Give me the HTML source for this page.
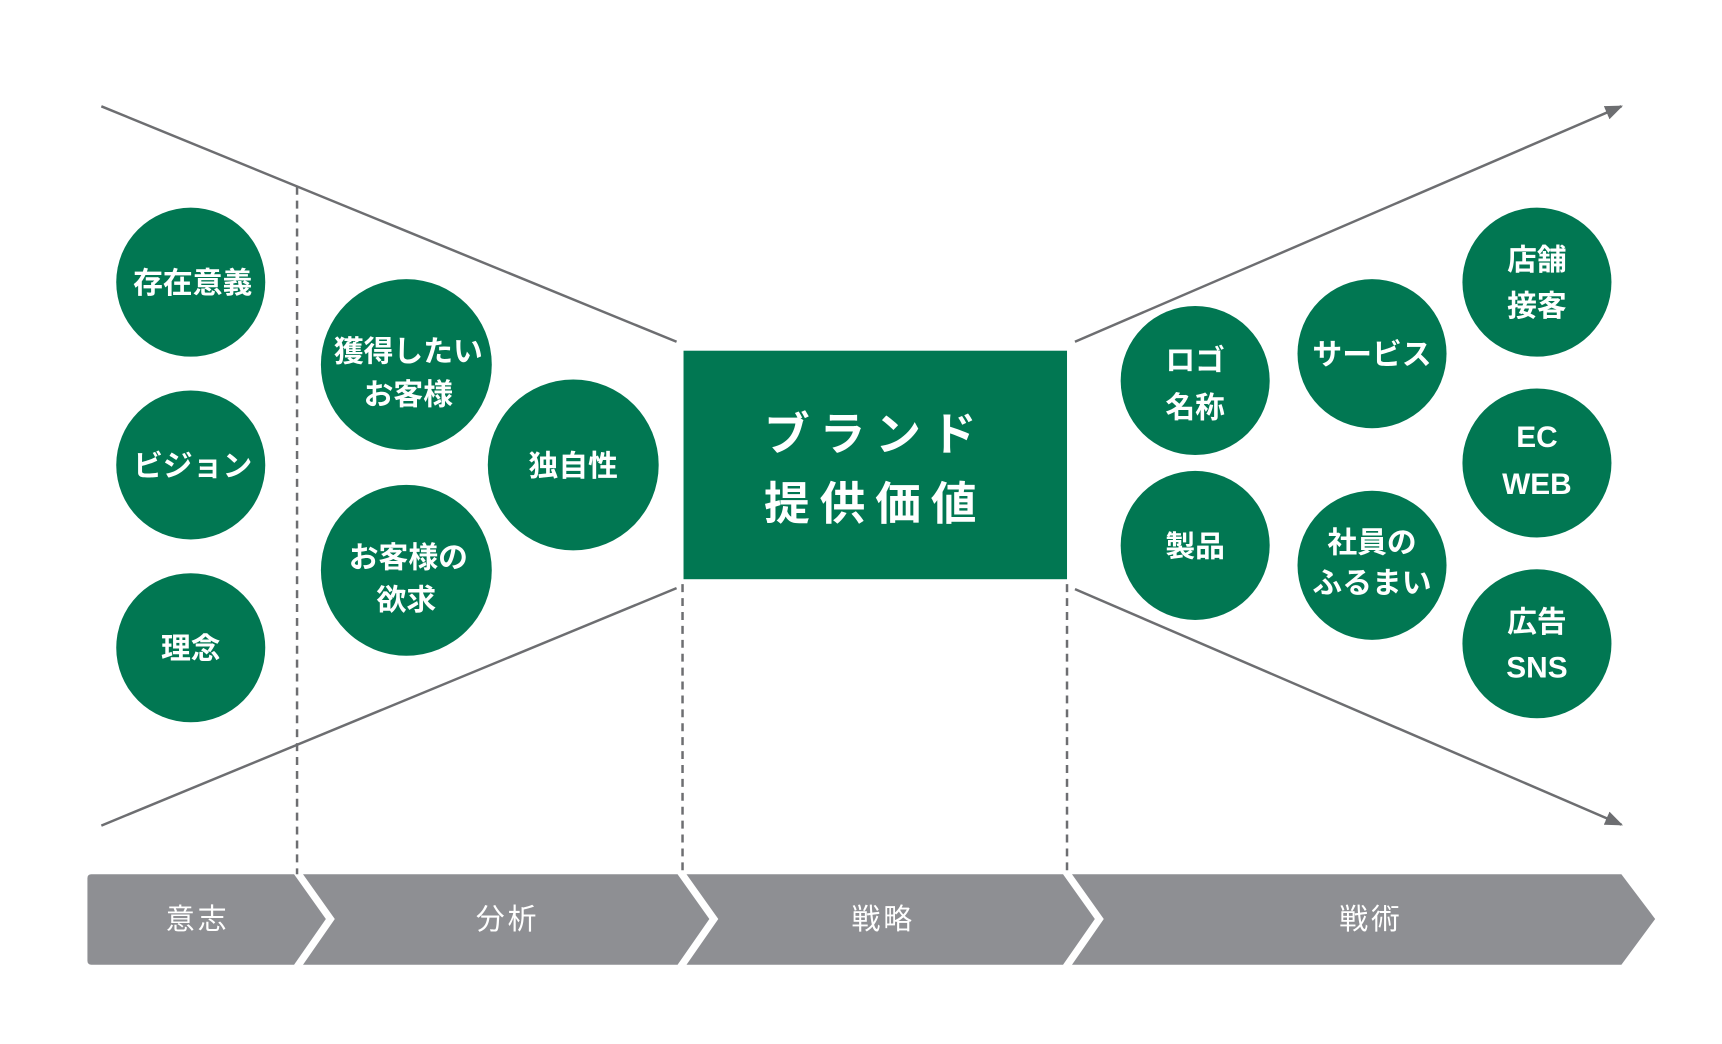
<!DOCTYPE html>
<html><head><meta charset="utf-8"><style>
html,body{margin:0;padding:0;background:#fff}
svg{display:block}
.c{font-family:"Liberation Sans","Noto Sans CJK JP",sans-serif;font-weight:bold;fill:#fff;font-size:30px;text-anchor:middle}
.b{font-family:"Liberation Sans","Noto Sans CJK JP",sans-serif;fill:#fff;font-size:29px;text-anchor:middle;letter-spacing:3px}
</style></head><body>
<svg width="1722" height="1044" viewBox="0 0 1722 1044" xmlns="http://www.w3.org/2000/svg">
<defs>
<marker id="a" viewBox="0 0 10 10" markerWidth="18" markerHeight="18" refX="9" refY="5" orient="auto" markerUnits="userSpaceOnUse"><path d="M0,1 L10,5 L0,9 Z" fill="#6d6e71"/></marker></defs>
<g transform="scale(0.9935)">
<g stroke="#6d6e71" stroke-width="2.5" fill="none">
<line x1="102" y1="107" x2="681" y2="344"/>
<line x1="102" y1="831" x2="681" y2="592"/>
<line x1="1082" y1="344" x2="1632" y2="107" marker-end="url(#a)"/>
<line x1="1082" y1="593" x2="1632" y2="830" marker-end="url(#a)"/>
</g>
<g stroke="#6d6e71" stroke-width="2.5" stroke-dasharray="8,6">
<line x1="299" y1="188" x2="299" y2="880"/>
<line x1="687" y1="588" x2="687" y2="880"/>
<line x1="1074" y1="588" x2="1074" y2="880"/>
</g>
<rect x="688" y="353" width="386" height="230" fill="#017752"/>
<text x="881" y="453" class="c" style="font-size:46px;letter-spacing:10px">ブランド</text>
<text x="881" y="523" class="c" style="font-size:46px;letter-spacing:10px">提供価値</text>
<g fill="#017752">
<circle cx="192" cy="284" r="75"/><circle cx="192" cy="468" r="75"/><circle cx="192" cy="652" r="75"/>
<circle cx="409" cy="367" r="86"/><circle cx="409" cy="574" r="86"/><circle cx="577" cy="468" r="86"/>
<circle cx="1203" cy="383" r="75"/><circle cx="1203" cy="549" r="75"/>
<circle cx="1381" cy="356" r="75"/><circle cx="1381" cy="569" r="75"/>
<circle cx="1547" cy="284" r="75"/><circle cx="1547" cy="466" r="75"/><circle cx="1547" cy="648" r="75"/>
</g>
<text x="194" y="295" class="c">存在意義</text>
<text x="194" y="479" class="c">ビジョン</text>
<text x="192" y="663" class="c">理念</text>
<text x="411" y="364" class="c">獲得したい</text>
<text x="411" y="407" class="c">お客様</text>
<text x="411" y="571" class="c">お客様の</text>
<text x="409" y="614" class="c">欲求</text>
<text x="577" y="479" class="c">独自性</text>
<text x="1203" y="373" class="c">ロゴ</text>
<text x="1203" y="420" class="c">名称</text>
<text x="1203" y="560" class="c">製品</text>
<text x="1381" y="367" class="c">サービス</text>
<text x="1381" y="556" class="c">社員の</text>
<text x="1381" y="597" class="c">ふるまい</text>
<text x="1547" y="272" class="c">店舗</text>
<text x="1547" y="318" class="c">接客</text>
<text x="1547" y="450" class="c">EC</text>
<text x="1547" y="497" class="c">WEB</text>
<text x="1547" y="636" class="c">広告</text>
<text x="1547" y="682" class="c">SNS</text>
<g fill="#8e8f93">
<path d="M92,880 H296 L328,925 L296,971 H92 Q88,971 88,967 V884 Q88,880 92,880 Z"/>
<path d="M305,880 H682 L714,925 L682,971 H305 L337,925 Z"/>
<path d="M691,880 H1070 L1102,925 L1070,971 H691 L723,925 Z"/>
<path d="M1079,880 H1632 L1666,925 L1632,971 H1079 L1111,925 Z"/>
</g>
<text x="199" y="935" class="b">意志</text>
<text x="511" y="935" class="b">分析</text>
<text x="889" y="935" class="b">戦略</text>
<text x="1380" y="935" class="b">戦術</text>
</g>
</svg>
</body></html>
